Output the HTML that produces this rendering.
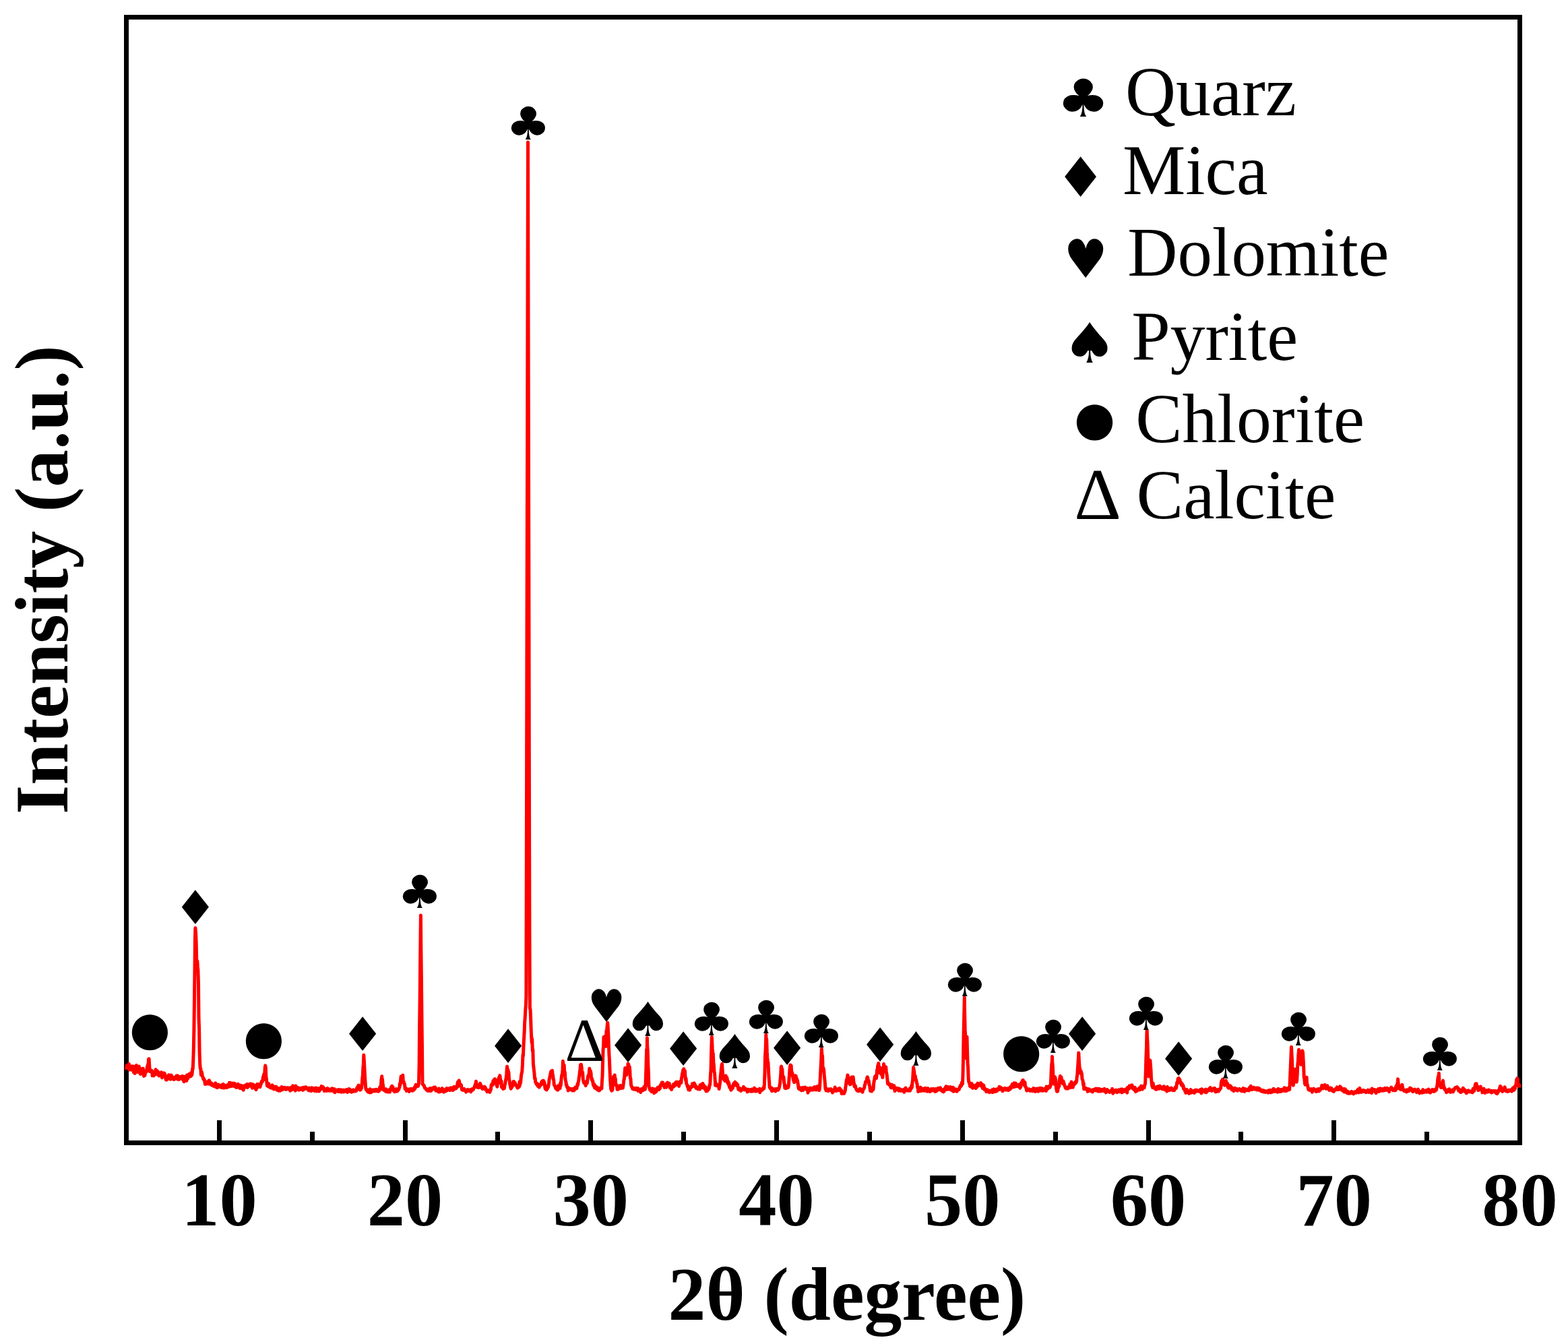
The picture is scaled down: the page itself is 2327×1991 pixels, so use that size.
<!DOCTYPE html>
<html lang="en">
<head>
<meta charset="utf-8">
<title>XRD pattern</title>
<style>
html,body{margin:0;padding:0;background:#fff;}
body{width:2327px;height:1991px;overflow:hidden;}
svg{display:block;}
.b{font-family:"Liberation Serif",serif;font-weight:bold;fill:#000;}
.l{font-family:"Liberation Serif",serif;fill:#000;}
.s{font-family:"DejaVu Sans",sans-serif;font-size:100px;fill:#000;}
.s .d{font-family:"Liberation Serif",serif;}
</style>
</head>
<body>
<svg width="2327" height="1991" viewBox="0 0 2327 1991">
<rect x="0" y="0" width="2327" height="1991" fill="#fff"/>
<g fill="#000" shape-rendering="crispEdges">
<rect x="184" y="22" width="2075" height="7"/>
<rect x="184" y="1692" width="2075" height="7"/>
<rect x="184" y="22" width="7" height="1677"/>
<rect x="2252" y="22" width="7" height="1677"/>
<rect x="322" y="1662" width="7" height="31"/>
<rect x="460" y="1679" width="7" height="14"/>
<rect x="598" y="1662" width="7" height="31"/>
<rect x="735" y="1679" width="7" height="14"/>
<rect x="873" y="1662" width="7" height="31"/>
<rect x="1011" y="1679" width="7" height="14"/>
<rect x="1149" y="1662" width="7" height="31"/>
<rect x="1287" y="1679" width="7" height="14"/>
<rect x="1425" y="1662" width="7" height="31"/>
<rect x="1563" y="1679" width="7" height="14"/>
<rect x="1701" y="1662" width="7" height="31"/>
<rect x="1838" y="1679" width="7" height="14"/>
<rect x="1976" y="1662" width="7" height="31"/>
<rect x="2114" y="1679" width="7" height="14"/>
</g>
<polyline fill="none" stroke="#f00" stroke-width="5" stroke-linejoin="round" stroke-linecap="butt" points="187.5,1587.06 188.1,1580.76 188.6,1582.55 189.2,1583.96 189.7,1580.63 190.3,1583.28 190.8,1583.55 191.4,1578.59 191.9,1587.13 192.5,1586.16 193.0,1582.81 193.6,1584.43 194.1,1586.69 194.7,1584.72 195.2,1585.05 195.8,1581.76 196.3,1587.69 196.9,1586.53 197.4,1587.07 198.0,1581.95 198.5,1591.24 199.1,1587.01 199.6,1585.55 200.2,1592.60 200.7,1586.73 201.3,1582.79 201.8,1585.89 202.4,1580.60 202.9,1590.25 203.5,1586.16 204.0,1585.32 204.6,1590.60 205.1,1582.94 205.7,1589.26 206.3,1581.97 206.8,1586.05 207.4,1584.66 207.9,1592.45 208.5,1593.54 209.0,1587.90 209.6,1591.42 210.1,1588.81 210.7,1591.13 211.2,1587.70 211.8,1585.30 212.3,1585.27 212.9,1591.37 213.4,1596.51 214.0,1591.09 214.5,1588.89 215.1,1595.54 215.6,1590.88 216.2,1590.42 216.7,1590.74 217.3,1589.58 217.8,1588.99 218.4,1582.43 218.9,1584.39 219.5,1578.91 220.0,1579.48 220.5,1571.36 221.1,1570.83 221.7,1580.46 222.2,1589.64 222.8,1587.41 223.3,1588.33 223.9,1587.79 224.5,1588.46 225.0,1590.76 225.6,1588.64 226.1,1596.02 226.7,1591.25 227.2,1592.28 227.8,1595.81 228.3,1595.94 228.9,1591.26 229.4,1592.64 230.0,1593.64 230.5,1591.04 231.1,1586.65 231.6,1593.12 232.2,1593.66 232.7,1592.30 233.3,1588.80 233.8,1590.90 234.4,1589.96 234.9,1590.87 235.5,1595.29 236.0,1596.03 236.6,1593.85 237.1,1593.64 237.7,1594.11 238.2,1592.39 238.8,1592.35 239.3,1590.89 239.9,1592.65 240.4,1598.90 241.0,1595.34 241.5,1592.27 242.1,1592.24 242.7,1591.88 243.2,1595.73 243.8,1596.40 244.3,1592.42 244.9,1597.90 245.4,1595.92 246.0,1601.43 246.5,1598.44 247.1,1602.27 247.6,1597.02 248.2,1597.43 248.7,1598.82 249.3,1600.58 249.8,1599.27 250.4,1594.72 250.9,1598.00 251.5,1597.41 252.0,1596.12 252.6,1595.44 253.1,1601.32 253.5,1596.03 254.2,1595.06 254.8,1598.93 255.3,1597.97 255.9,1597.80 256.4,1600.22 257.0,1599.85 257.5,1599.85 258.1,1601.55 258.6,1600.16 259.2,1598.22 259.7,1598.98 260.3,1598.74 260.8,1600.56 261.4,1597.64 262.0,1595.97 262.5,1600.49 263.1,1597.21 263.6,1595.82 264.2,1601.27 264.7,1598.78 265.3,1601.62 265.8,1599.26 266.4,1597.93 266.9,1597.68 267.5,1599.39 268.0,1599.98 268.6,1598.74 269.1,1600.02 269.7,1597.14 270.2,1600.75 270.8,1596.59 271.3,1600.30 271.9,1602.38 272.4,1603.30 273.0,1604.75 273.5,1597.20 274.1,1602.55 274.6,1603.43 275.2,1602.56 275.7,1597.71 276.3,1600.48 276.8,1603.55 277.4,1595.13 277.9,1599.46 278.5,1600.60 279.0,1595.74 279.6,1598.44 280.2,1593.85 280.7,1593.98 281.3,1593.42 281.8,1595.60 282.4,1594.59 282.9,1596.94 283.5,1591.60 284.0,1593.14 284.6,1595.25 285.1,1592.94 285.7,1585.33 286.2,1586.11 286.8,1572.66 287.3,1557.47 287.9,1527.73 288.4,1490.88 289.0,1440.02 289.5,1391.53 289.9,1376.70 290.6,1384.97 291.2,1399.76 291.7,1424.45 292.3,1429.82 292.8,1425.58 293.4,1434.40 293.9,1439.22 294.5,1460.47 295.0,1510.94 295.6,1526.18 296.1,1561.30 296.7,1578.37 297.2,1585.20 297.8,1585.04 298.4,1594.90 298.9,1589.72 299.5,1590.81 300.0,1593.92 300.6,1597.44 301.1,1598.02 301.7,1601.00 302.2,1599.79 302.8,1602.13 303.3,1601.74 303.9,1605.17 304.4,1608.59 305.0,1607.05 305.5,1608.47 306.1,1606.14 306.6,1605.66 307.2,1606.32 307.7,1605.13 308.3,1606.12 308.8,1604.79 309.1,1608.03 309.4,1603.82 309.9,1604.07 310.5,1602.95 311.0,1605.93 311.6,1608.01 312.1,1605.79 312.7,1607.62 313.2,1609.41 313.8,1607.93 314.3,1607.25 314.9,1610.18 315.4,1608.68 316.0,1609.49 316.6,1611.18 317.1,1611.34 317.7,1608.76 318.2,1608.65 318.8,1610.38 319.3,1609.83 319.9,1606.84 320.4,1612.83 321.0,1610.77 321.5,1612.27 322.1,1609.10 322.6,1613.66 323.2,1610.52 323.7,1611.36 324.3,1609.09 324.8,1611.25 325.4,1611.14 325.9,1611.21 326.5,1612.30 327.0,1611.63 327.6,1613.23 328.1,1610.70 328.7,1609.77 329.2,1611.47 329.8,1612.60 330.3,1613.68 330.9,1612.92 331.4,1608.39 332.0,1612.14 332.5,1614.03 333.1,1611.58 333.6,1610.56 334.2,1612.00 334.8,1610.54 335.3,1612.46 335.9,1611.23 336.4,1613.63 337.0,1611.96 337.5,1609.69 338.1,1611.97 338.6,1612.48 339.2,1609.69 339.7,1609.86 340.3,1606.37 340.8,1612.09 341.4,1609.29 341.9,1606.40 342.5,1606.95 343.0,1609.68 343.6,1611.40 344.1,1609.75 344.7,1610.69 345.2,1607.69 345.8,1607.15 346.3,1611.20 346.9,1610.38 347.4,1609.32 348.0,1611.69 348.5,1607.42 349.1,1608.65 349.6,1611.56 350.2,1613.27 350.7,1610.11 351.3,1613.37 351.8,1609.44 352.4,1611.34 353.0,1610.66 353.5,1608.38 354.1,1611.86 354.6,1613.25 355.2,1611.59 355.7,1611.95 356.3,1614.66 356.8,1610.40 357.4,1610.22 357.9,1611.79 358.5,1610.79 359.0,1614.96 359.6,1613.13 360.1,1611.06 360.7,1611.39 361.2,1617.20 361.8,1611.21 362.3,1610.85 362.9,1612.59 363.4,1613.07 364.0,1612.27 364.5,1610.22 365.1,1609.69 365.6,1612.65 366.2,1611.42 366.7,1608.55 367.3,1613.40 367.8,1612.61 368.4,1610.73 368.9,1610.60 369.5,1611.38 370.0,1609.65 370.6,1608.37 371.1,1611.27 371.7,1608.00 372.3,1611.41 372.8,1608.24 373.4,1610.75 373.9,1610.80 374.5,1614.31 375.0,1609.38 375.6,1608.88 376.1,1610.34 376.7,1609.62 377.2,1610.67 377.8,1612.53 378.3,1613.24 378.9,1614.86 379.4,1610.85 380.0,1616.72 380.5,1615.68 381.1,1612.06 381.6,1608.53 382.2,1612.27 382.7,1612.53 383.3,1608.48 383.8,1612.45 384.4,1611.85 384.9,1610.60 385.5,1612.63 386.0,1612.68 386.6,1609.06 387.1,1609.20 387.7,1606.10 388.2,1604.39 388.8,1604.98 389.3,1605.13 389.9,1602.08 390.5,1597.60 391.0,1602.23 391.6,1593.84 392.1,1593.40 392.7,1592.98 393.3,1584.05 393.8,1580.85 394.3,1584.04 394.9,1597.30 395.4,1600.56 396.0,1606.82 396.5,1610.85 397.1,1610.96 397.6,1611.51 398.2,1610.92 398.7,1607.61 399.3,1610.34 399.8,1612.76 400.4,1612.56 400.9,1613.50 401.5,1612.58 402.0,1613.02 402.6,1614.02 403.1,1611.16 403.7,1612.11 404.2,1609.90 404.8,1614.45 405.3,1613.11 405.9,1614.07 406.4,1615.99 407.0,1615.44 407.5,1613.82 408.1,1615.38 408.7,1612.10 409.2,1615.23 409.8,1614.99 410.3,1612.52 410.9,1617.22 411.4,1614.36 412.0,1616.63 412.5,1615.22 413.1,1617.48 413.6,1618.14 414.2,1615.29 414.7,1614.53 415.3,1616.70 415.8,1618.19 416.4,1616.37 416.9,1615.90 417.5,1617.31 418.0,1612.58 418.6,1615.41 419.1,1614.24 419.7,1616.52 420.2,1614.89 420.8,1614.19 421.3,1615.17 421.9,1613.38 422.4,1615.41 423.0,1614.27 423.5,1614.59 424.1,1613.96 424.6,1616.41 425.2,1614.83 425.7,1615.78 426.3,1615.69 426.9,1613.70 427.4,1615.78 428.0,1615.42 428.5,1615.34 429.1,1614.23 429.6,1614.16 430.2,1616.02 430.7,1618.19 431.3,1613.59 431.8,1615.71 432.4,1614.36 432.9,1616.14 433.5,1615.64 434.0,1616.61 434.6,1610.77 435.1,1614.14 435.7,1613.58 436.2,1614.94 436.8,1614.03 437.3,1614.19 437.9,1616.22 438.4,1618.08 439.0,1610.98 439.5,1614.80 440.1,1615.76 440.6,1615.33 441.2,1614.83 441.7,1613.35 442.3,1613.99 442.8,1616.51 443.4,1617.06 443.9,1615.62 444.5,1614.26 445.1,1615.68 445.6,1615.20 446.2,1616.40 446.7,1615.79 447.3,1614.72 447.8,1615.93 448.4,1613.91 448.9,1616.84 449.5,1617.30 450.0,1613.61 450.6,1615.75 451.1,1613.22 451.7,1616.02 452.2,1615.38 452.8,1613.29 453.0,1615.21 453.3,1612.88 453.9,1612.68 454.4,1613.14 455.0,1614.27 455.5,1614.46 456.1,1615.60 456.6,1614.77 457.2,1617.02 457.7,1617.52 458.3,1615.41 458.8,1614.13 459.4,1617.26 459.9,1617.89 460.5,1616.05 461.0,1614.47 461.6,1616.72 462.1,1618.54 462.7,1613.72 463.3,1617.10 463.8,1616.00 464.4,1615.25 464.9,1617.20 465.5,1614.68 466.0,1616.95 466.6,1618.40 467.1,1616.81 467.7,1615.34 468.2,1614.09 468.8,1614.81 469.3,1614.04 469.9,1618.90 470.4,1616.31 471.0,1615.21 471.5,1614.87 472.1,1615.21 472.6,1616.23 473.2,1614.87 473.7,1618.93 474.3,1615.23 474.8,1614.68 475.4,1615.55 475.9,1616.42 476.5,1615.30 477.0,1611.49 477.3,1612.54 477.6,1612.26 478.1,1613.17 478.7,1613.44 479.2,1612.52 479.8,1613.10 480.3,1616.09 480.9,1614.70 481.4,1618.63 482.0,1616.96 482.6,1615.57 483.1,1616.59 483.7,1616.36 484.2,1616.90 484.8,1618.39 485.3,1615.13 485.9,1614.57 486.4,1617.61 487.0,1616.92 487.5,1617.40 488.1,1617.80 488.6,1616.96 489.2,1618.32 489.7,1616.03 490.3,1617.35 490.8,1616.15 491.4,1615.76 491.9,1618.14 492.5,1618.10 493.0,1614.72 493.6,1615.84 494.1,1617.77 494.7,1618.83 495.2,1616.51 495.8,1617.18 496.3,1615.54 496.9,1620.83 497.4,1618.11 498.0,1618.69 498.5,1618.39 499.1,1618.77 499.6,1618.35 500.2,1617.11 500.8,1618.57 501.3,1617.70 501.9,1619.33 502.4,1616.64 503.0,1616.92 503.5,1618.53 504.1,1619.37 504.6,1617.88 505.2,1616.76 505.7,1617.56 506.3,1617.07 506.8,1620.24 507.4,1618.93 507.9,1619.43 508.5,1618.17 509.0,1617.05 509.6,1619.34 510.1,1619.98 510.7,1618.58 511.2,1617.79 511.8,1619.26 512.3,1617.36 512.9,1618.86 513.4,1616.94 514.0,1616.61 514.5,1618.63 515.1,1618.34 515.6,1620.40 516.2,1617.56 516.7,1617.97 517.3,1616.46 517.8,1615.52 518.4,1615.65 519.0,1618.58 519.5,1616.46 520.1,1619.47 520.6,1619.86 521.2,1617.66 521.7,1620.19 522.3,1618.35 522.8,1619.52 523.4,1617.78 523.9,1619.33 524.5,1616.88 525.0,1618.92 525.6,1617.53 526.1,1617.97 526.7,1618.94 527.2,1618.32 527.8,1617.89 528.3,1618.70 528.9,1618.34 529.4,1614.48 530.0,1616.19 530.5,1615.19 531.1,1611.79 531.5,1613.15 532.2,1610.13 532.7,1615.32 533.3,1613.45 533.8,1614.65 534.4,1617.26 534.9,1615.61 535.5,1616.68 536.0,1613.91 536.6,1614.09 537.2,1608.06 537.7,1601.19 538.3,1595.54 538.8,1584.75 539.4,1578.42 539.8,1565.23 540.5,1576.12 541.0,1586.23 541.6,1597.79 542.1,1606.02 542.7,1614.23 543.2,1616.38 543.8,1615.87 544.3,1616.64 544.9,1618.95 545.4,1616.80 546.0,1618.14 546.5,1620.21 547.1,1618.44 547.6,1619.33 548.2,1617.76 548.7,1621.03 549.3,1615.81 549.8,1617.24 550.4,1617.36 550.9,1620.70 551.5,1619.14 552.0,1618.36 552.6,1617.08 553.1,1619.12 553.7,1618.79 554.2,1617.77 554.8,1616.76 555.4,1617.23 555.9,1618.86 556.5,1618.97 557.0,1618.65 557.6,1618.35 558.1,1616.29 558.7,1618.54 559.2,1617.13 559.8,1618.42 560.3,1618.88 560.9,1617.31 561.4,1616.72 562.0,1619.18 562.5,1618.14 563.1,1616.60 563.6,1613.12 564.2,1616.90 564.7,1613.92 565.3,1610.77 565.8,1602.97 566.4,1598.77 566.7,1596.82 566.9,1601.58 567.5,1601.16 568.0,1607.65 568.6,1610.50 569.1,1616.72 569.7,1614.86 570.2,1617.73 570.8,1616.75 571.3,1617.29 571.9,1618.42 572.4,1619.34 573.0,1615.70 573.6,1619.28 574.1,1618.74 574.7,1617.69 575.2,1619.93 575.8,1618.39 576.3,1619.81 576.9,1617.31 577.4,1616.78 578.0,1619.25 578.5,1620.10 579.1,1617.39 579.6,1617.04 580.2,1614.25 580.7,1612.31 581.0,1613.84 581.3,1616.49 581.8,1611.29 582.4,1613.92 582.9,1612.51 583.5,1616.32 584.0,1618.10 584.6,1615.80 585.1,1617.34 585.7,1619.83 586.2,1618.13 586.8,1616.70 587.3,1616.58 587.9,1615.63 588.4,1619.07 589.0,1616.89 589.5,1619.01 590.1,1618.45 590.6,1615.90 591.2,1615.43 591.7,1616.48 592.3,1614.35 592.9,1612.97 593.4,1607.51 594.0,1609.77 594.5,1603.35 595.1,1597.09 595.6,1597.86 596.2,1598.17 596.8,1601.37 597.3,1595.68 597.8,1595.20 598.4,1605.92 598.9,1604.32 599.5,1606.30 600.0,1607.33 600.6,1609.70 601.1,1615.55 601.7,1613.94 602.2,1614.45 602.8,1615.15 603.3,1618.57 603.9,1615.80 604.4,1617.71 605.0,1617.35 605.5,1617.42 606.1,1615.97 606.6,1618.12 607.2,1619.46 607.7,1617.24 608.3,1616.09 608.8,1615.60 609.4,1617.63 609.9,1617.03 610.5,1617.28 611.1,1617.43 611.6,1615.39 612.2,1618.35 612.7,1617.43 613.3,1616.68 613.8,1616.62 614.4,1616.98 614.9,1614.86 615.5,1612.53 616.0,1614.99 616.3,1611.97 616.6,1611.17 617.1,1609.26 617.7,1611.69 618.2,1609.65 618.8,1610.34 619.3,1611.69 619.9,1610.39 620.4,1611.47 621.0,1609.27 621.5,1606.94 622.1,1579.20 622.6,1525.30 623.2,1477.45 623.7,1422.43 624.4,1357.89 624.8,1404.63 625.4,1453.84 625.9,1504.06 626.5,1553.07 627.0,1608.28 627.6,1608.93 628.1,1609.68 628.7,1609.92 629.3,1610.34 629.8,1612.41 630.4,1614.08 630.9,1614.30 631.5,1614.96 632.0,1615.05 632.6,1616.68 633.1,1616.88 633.7,1615.77 634.2,1618.07 634.8,1618.25 635.3,1618.37 635.9,1617.16 636.4,1617.12 637.0,1615.84 637.5,1618.43 638.1,1614.53 638.6,1616.87 639.2,1616.91 639.7,1618.46 640.3,1617.16 640.8,1615.60 641.4,1614.56 641.9,1615.02 642.5,1615.64 643.0,1614.95 643.6,1614.04 644.0,1613.01 644.7,1613.68 645.2,1615.84 645.8,1613.03 646.3,1615.34 646.9,1618.22 647.5,1617.12 648.0,1616.04 648.6,1617.84 649.1,1616.03 649.7,1617.14 650.2,1619.29 650.8,1619.79 651.3,1614.92 651.9,1618.21 652.4,1619.92 653.0,1616.53 653.5,1617.61 654.1,1619.29 654.6,1616.55 655.2,1617.82 655.7,1617.12 656.3,1614.60 656.8,1617.73 657.4,1617.06 657.9,1618.63 658.5,1620.26 659.0,1618.42 659.6,1617.07 660.1,1618.20 660.7,1617.91 661.2,1619.02 661.8,1615.78 662.3,1616.02 662.9,1614.61 663.4,1618.00 664.0,1616.94 664.5,1615.87 665.1,1615.53 665.7,1615.53 666.2,1614.80 666.8,1615.46 667.3,1614.99 667.9,1617.58 668.4,1615.78 669.0,1613.84 669.5,1613.97 670.1,1616.62 670.6,1615.52 671.2,1615.33 671.7,1616.03 672.3,1617.38 672.8,1613.14 673.4,1613.87 673.9,1612.35 674.5,1615.72 675.0,1614.29 675.6,1613.66 676.1,1613.20 676.7,1615.01 677.2,1612.96 677.8,1611.30 678.3,1613.18 678.9,1607.48 679.4,1605.34 680.0,1611.58 680.5,1604.36 680.8,1603.65 681.1,1603.07 681.6,1604.54 682.2,1607.33 682.7,1608.59 683.3,1609.78 683.9,1609.94 684.4,1609.46 685.0,1613.82 685.5,1616.81 686.1,1616.87 686.6,1615.62 687.2,1617.45 687.7,1616.08 688.3,1616.79 688.8,1615.35 689.4,1616.77 689.9,1617.53 690.5,1617.23 691.0,1618.59 691.6,1620.16 692.1,1619.46 692.7,1617.34 693.2,1616.80 693.8,1616.92 694.3,1616.50 694.9,1617.84 695.4,1618.35 696.0,1618.03 696.5,1618.03 697.1,1617.96 697.6,1617.54 698.2,1616.67 698.7,1619.87 699.3,1618.84 699.8,1615.98 700.4,1615.66 700.9,1615.63 701.5,1615.90 702.0,1616.95 702.6,1615.62 703.2,1614.57 703.7,1613.34 704.3,1612.08 704.8,1610.23 705.5,1608.69 705.9,1607.34 706.5,1604.30 707.0,1608.09 707.6,1612.65 708.1,1609.30 708.7,1610.08 709.2,1613.55 709.8,1612.07 710.3,1610.76 710.9,1613.64 711.4,1611.03 712.0,1610.39 712.5,1607.31 713.1,1609.33 713.6,1609.66 714.2,1611.44 714.7,1613.39 715.3,1614.64 715.8,1614.14 716.4,1615.55 716.9,1612.70 717.5,1615.06 718.0,1614.62 718.4,1612.66 719.1,1612.26 719.7,1614.11 720.2,1613.30 720.8,1616.61 721.4,1617.40 721.9,1616.39 722.5,1618.13 723.0,1619.64 723.6,1619.70 724.1,1619.63 724.7,1618.09 725.2,1617.74 725.8,1617.48 726.3,1618.48 726.9,1620.41 727.4,1618.47 728.0,1617.81 728.5,1616.21 729.1,1609.67 729.6,1610.19 730.2,1607.91 730.8,1609.50 731.3,1609.48 731.8,1603.75 732.4,1604.48 732.9,1604.87 733.5,1601.83 734.0,1600.96 734.5,1600.78 735.1,1605.02 735.7,1602.45 736.2,1608.36 736.8,1607.82 737.3,1610.28 737.9,1612.16 738.4,1607.36 739.0,1605.40 739.6,1605.60 740.1,1599.76 740.7,1598.11 741.0,1598.63 741.2,1598.96 741.8,1595.65 742.3,1598.99 742.9,1603.36 743.4,1607.61 744.0,1603.73 744.5,1612.55 745.1,1613.73 745.6,1611.96 746.2,1612.32 746.7,1615.59 747.3,1614.23 747.8,1614.54 748.4,1614.58 748.9,1610.61 749.5,1608.78 750.0,1605.70 750.6,1602.07 751.1,1599.15 751.7,1593.97 752.2,1585.55 752.6,1582.30 753.3,1589.78 753.9,1586.86 754.4,1590.20 755.0,1591.29 755.5,1601.44 756.1,1603.12 756.6,1608.26 757.2,1610.26 757.8,1613.52 758.3,1615.19 758.9,1612.73 759.4,1612.79 760.0,1612.70 760.5,1608.88 761.1,1606.98 761.6,1606.17 761.9,1604.41 762.2,1608.05 762.7,1604.52 763.3,1608.38 763.8,1609.45 764.4,1606.42 764.9,1609.90 765.5,1609.95 766.0,1609.53 766.6,1611.33 767.1,1611.68 767.7,1613.57 768.2,1614.13 768.8,1610.36 769.3,1611.15 769.9,1612.19 770.4,1612.55 771.0,1604.70 771.5,1610.27 772.1,1605.47 772.6,1606.67 773.2,1599.23 773.7,1594.32 774.3,1591.89 774.8,1589.66 775.4,1579.97 776.0,1564.63 776.5,1566.75 777.1,1548.97 777.6,1541.32 778.2,1530.14 778.7,1516.62 779.3,1508.26 779.8,1498.83 780.4,1490.43 780.9,1476.95 781.5,1201.72 782.0,924.43 782.6,659.10 783.1,395.13 783.5,211.04 784.2,558.45 784.8,830.39 785.3,1103.31 785.9,1378.69 786.4,1496.02 787.0,1497.20 787.5,1507.67 788.1,1525.57 788.6,1536.63 789.2,1547.00 789.7,1541.21 790.3,1559.05 790.8,1557.01 791.4,1578.35 791.9,1582.81 792.5,1588.54 793.0,1592.89 793.6,1600.49 794.2,1599.89 794.7,1605.46 795.3,1606.42 795.8,1607.56 796.4,1608.94 796.9,1609.12 797.5,1607.49 798.0,1611.27 798.6,1611.62 799.1,1610.59 799.7,1612.54 800.2,1613.07 800.8,1609.34 801.3,1611.17 801.9,1610.16 802.4,1608.44 803.0,1609.47 803.5,1605.60 804.1,1604.63 804.6,1604.45 805.3,1603.48 805.7,1603.29 806.3,1608.07 806.8,1603.38 807.4,1606.76 807.9,1606.00 808.5,1611.29 809.0,1614.26 809.6,1615.77 810.1,1613.86 810.7,1614.73 811.2,1617.00 811.8,1614.48 812.3,1615.32 812.9,1610.88 813.5,1613.29 814.0,1610.61 814.6,1606.95 815.1,1601.17 815.7,1599.21 816.2,1596.61 816.8,1593.91 817.5,1590.22 817.9,1589.32 818.4,1590.62 819.0,1595.14 819.5,1588.30 820.1,1592.93 820.6,1595.84 821.2,1601.11 821.7,1601.92 822.3,1609.14 822.8,1610.32 823.4,1611.37 823.9,1611.94 824.5,1614.25 825.0,1614.93 825.6,1615.60 826.1,1614.27 826.7,1616.48 827.2,1613.37 827.8,1617.35 828.3,1610.72 828.9,1614.16 829.4,1612.77 830.0,1615.21 830.5,1610.46 831.1,1614.62 831.7,1606.39 832.2,1610.52 832.8,1603.64 833.3,1598.16 833.9,1594.13 834.4,1594.05 835.0,1586.15 835.4,1574.33 836.1,1584.07 836.6,1582.55 837.2,1580.06 837.7,1591.04 838.3,1590.45 838.8,1598.80 839.4,1603.17 839.9,1604.91 840.5,1610.29 841.0,1609.39 841.6,1613.06 842.1,1612.95 842.7,1614.29 843.2,1618.01 843.8,1615.62 844.3,1614.11 844.9,1615.73 845.4,1614.92 846.0,1616.18 846.5,1616.47 847.1,1616.42 847.6,1616.47 848.2,1615.60 848.7,1617.03 849.3,1617.90 849.9,1615.49 850.4,1616.26 851.0,1616.38 851.5,1618.02 852.1,1617.68 852.6,1614.81 853.2,1615.71 853.7,1613.04 854.3,1613.44 854.8,1614.50 855.4,1614.93 855.9,1614.75 856.5,1611.63 857.0,1608.33 857.6,1609.58 858.1,1605.88 858.7,1603.82 859.2,1599.15 859.8,1595.91 860.3,1590.94 860.9,1587.12 861.5,1579.79 862.0,1583.30 862.5,1579.25 863.1,1583.13 863.6,1591.44 864.2,1590.91 864.7,1591.03 865.3,1601.57 865.8,1603.51 866.4,1606.27 866.9,1606.06 867.5,1607.53 868.1,1607.04 868.6,1606.45 869.2,1610.69 869.7,1606.38 870.3,1605.15 870.8,1603.80 871.4,1607.06 871.9,1602.83 872.5,1597.51 873.0,1595.74 873.6,1594.74 874.1,1593.67 874.8,1585.14 875.2,1591.73 875.8,1588.88 876.3,1588.71 876.9,1591.35 877.4,1596.75 878.0,1601.67 878.5,1600.41 879.1,1603.92 879.6,1603.37 880.2,1608.15 880.7,1610.49 881.3,1607.66 881.8,1610.61 882.4,1613.74 882.9,1610.17 883.5,1613.00 884.0,1614.96 884.6,1611.66 885.1,1613.95 885.7,1614.90 886.3,1616.47 886.8,1613.48 887.4,1617.29 887.9,1616.33 888.5,1617.84 889.0,1617.97 889.6,1616.96 890.1,1617.31 890.7,1614.30 891.2,1614.88 891.8,1615.16 892.3,1615.29 892.9,1615.02 893.4,1604.60 894.0,1596.85 894.5,1577.57 895.1,1556.68 895.6,1551.50 896.0,1538.61 896.7,1542.81 897.3,1544.75 897.8,1539.41 898.4,1537.02 898.9,1552.53 899.5,1538.60 900.0,1529.17 900.6,1529.45 901.1,1521.97 901.7,1517.34 902.2,1523.03 902.8,1534.25 903.3,1546.48 903.9,1563.48 904.5,1574.16 905.0,1587.68 905.6,1601.16 906.1,1608.87 906.7,1615.81 907.2,1616.82 907.8,1618.18 908.3,1616.03 908.9,1617.14 909.4,1607.64 910.0,1604.93 910.5,1597.34 910.9,1598.13 911.6,1598.84 912.2,1594.94 912.7,1600.83 913.3,1600.27 913.8,1609.87 914.4,1609.15 914.9,1609.57 915.5,1612.50 916.0,1616.25 916.6,1616.52 917.1,1615.90 917.7,1612.15 918.2,1612.69 918.8,1615.21 919.3,1611.06 919.9,1611.82 920.4,1610.85 921.0,1610.56 921.5,1614.61 922.1,1613.66 922.6,1613.35 923.2,1613.49 923.8,1614.00 924.3,1614.25 924.9,1610.19 925.4,1606.87 926.0,1601.14 926.5,1600.66 927.1,1591.27 927.7,1584.40 928.2,1587.32 928.7,1589.44 929.3,1593.41 929.8,1594.94 930.4,1590.13 930.9,1587.88 931.5,1585.28 932.0,1578.12 932.6,1578.75 933.1,1581.21 933.7,1583.06 934.2,1582.43 934.8,1588.40 935.3,1599.92 935.9,1599.73 936.4,1608.21 937.0,1611.48 937.5,1612.19 938.1,1612.57 938.6,1615.25 939.2,1614.03 939.7,1615.37 940.3,1616.00 940.8,1614.98 941.4,1615.85 942.0,1615.88 942.5,1614.71 943.1,1616.33 943.6,1615.83 944.2,1614.30 944.7,1616.49 945.3,1616.68 945.8,1616.36 946.4,1614.49 946.9,1618.44 947.5,1618.41 948.0,1618.47 948.6,1618.13 949.1,1616.13 949.7,1617.95 950.2,1616.55 950.8,1620.62 951.3,1616.98 951.9,1618.47 952.4,1615.37 953.0,1615.68 953.5,1616.31 954.1,1617.73 954.6,1617.16 955.2,1616.35 955.7,1612.64 956.3,1616.58 956.8,1612.77 957.4,1616.22 957.9,1612.49 958.5,1595.18 959.0,1580.33 959.6,1556.77 960.2,1556.48 960.4,1539.81 960.7,1551.47 961.3,1559.85 961.8,1578.51 962.4,1591.52 962.9,1610.10 963.5,1613.70 964.0,1614.70 964.6,1617.04 965.1,1616.19 965.7,1616.34 966.2,1616.48 966.8,1619.60 967.3,1616.29 967.9,1618.93 968.4,1614.86 969.0,1616.45 969.5,1618.25 970.1,1617.55 970.6,1621.76 971.2,1621.22 971.7,1615.85 972.3,1616.42 972.8,1617.59 973.4,1620.02 973.9,1619.15 974.5,1617.98 975.0,1615.51 975.6,1616.08 976.1,1613.24 976.7,1614.40 977.2,1616.66 977.8,1616.53 978.4,1612.43 978.9,1613.59 979.5,1615.00 980.0,1611.26 980.6,1609.16 981.1,1609.78 981.7,1608.75 982.0,1607.47 982.2,1606.05 982.8,1606.02 983.3,1607.14 983.9,1606.25 984.4,1610.52 985.0,1610.29 985.5,1611.26 986.1,1613.46 986.6,1612.88 987.2,1612.60 987.7,1610.47 988.3,1609.02 988.8,1613.26 989.4,1607.11 990.0,1606.80 990.5,1606.17 991.0,1608.37 991.6,1609.09 992.1,1610.80 992.7,1609.16 993.2,1607.28 993.8,1611.87 994.3,1613.82 994.9,1612.98 995.4,1613.35 996.0,1614.95 996.6,1616.51 997.1,1614.01 997.7,1611.52 998.2,1612.37 998.8,1612.34 999.3,1608.66 999.9,1612.21 1000.4,1608.41 1001.0,1609.82 1001.5,1608.38 1001.9,1606.89 1002.6,1610.15 1003.2,1605.51 1003.7,1605.25 1004.3,1607.32 1004.8,1608.60 1005.4,1607.13 1005.9,1605.36 1006.5,1608.78 1007.0,1608.60 1007.6,1611.48 1008.1,1607.24 1008.7,1608.20 1009.2,1606.51 1009.8,1604.13 1010.3,1606.22 1010.9,1606.21 1011.4,1599.73 1012.0,1597.37 1012.5,1592.56 1013.1,1595.73 1013.6,1587.69 1014.0,1590.04 1014.8,1585.82 1015.3,1589.87 1015.9,1590.20 1016.4,1588.66 1017.0,1598.14 1017.5,1602.54 1018.1,1600.12 1018.6,1607.00 1019.2,1608.83 1019.7,1609.52 1020.3,1612.32 1020.8,1610.60 1021.4,1614.83 1021.9,1616.79 1022.5,1613.19 1023.0,1614.97 1023.6,1617.12 1024.1,1614.89 1024.7,1613.51 1025.2,1612.32 1025.8,1613.38 1026.3,1612.03 1026.9,1612.48 1027.4,1607.76 1028.0,1611.78 1028.5,1608.54 1029.1,1610.25 1029.6,1607.72 1030.2,1606.96 1030.7,1608.86 1031.3,1608.81 1031.8,1610.57 1032.4,1613.02 1032.9,1614.34 1033.5,1613.37 1034.1,1612.56 1034.6,1612.99 1035.2,1614.84 1035.7,1615.79 1036.3,1613.62 1036.8,1614.16 1037.4,1613.35 1037.9,1614.92 1038.5,1616.05 1039.0,1609.82 1039.6,1614.42 1040.1,1612.58 1040.7,1608.87 1041.2,1612.50 1041.8,1611.00 1042.3,1611.16 1043.0,1607.49 1043.4,1613.88 1044.0,1610.38 1044.5,1610.11 1045.1,1614.21 1045.6,1613.64 1046.2,1614.96 1046.7,1616.48 1047.3,1612.61 1047.8,1618.89 1048.4,1616.74 1048.9,1617.96 1049.5,1618.65 1050.0,1616.08 1050.6,1616.98 1051.1,1616.97 1051.7,1614.99 1052.3,1614.93 1052.8,1610.53 1053.4,1610.10 1053.9,1605.96 1054.5,1593.07 1055.0,1588.20 1055.6,1561.09 1056.3,1538.38 1056.7,1544.54 1057.2,1555.92 1057.8,1562.13 1058.3,1563.01 1058.9,1576.30 1059.4,1580.35 1060.0,1590.71 1060.5,1591.43 1061.1,1601.14 1061.6,1610.24 1062.2,1606.16 1062.7,1610.58 1063.3,1610.72 1063.8,1610.52 1064.4,1610.95 1064.9,1610.74 1065.5,1611.25 1066.0,1609.82 1066.6,1610.48 1067.1,1615.55 1067.7,1611.42 1068.2,1608.46 1068.8,1604.29 1069.3,1595.90 1069.9,1591.40 1070.5,1584.24 1070.8,1586.04 1071.0,1580.31 1071.6,1578.38 1072.1,1587.35 1072.7,1593.62 1073.2,1600.23 1073.8,1599.03 1074.3,1597.56 1074.9,1602.35 1075.4,1602.32 1076.0,1603.63 1076.5,1600.20 1077.1,1595.92 1077.8,1598.79 1078.2,1598.18 1078.7,1598.42 1079.3,1601.30 1079.8,1606.73 1080.4,1604.14 1080.9,1605.12 1081.5,1609.79 1082.0,1607.20 1082.6,1613.21 1083.1,1611.89 1083.7,1612.69 1084.2,1614.63 1084.8,1617.27 1085.3,1613.56 1085.9,1616.04 1086.4,1614.80 1087.0,1611.35 1087.5,1614.28 1088.1,1610.22 1088.7,1607.73 1089.2,1607.60 1089.8,1606.51 1090.5,1608.09 1090.9,1605.25 1091.4,1609.86 1092.0,1607.86 1092.5,1606.91 1093.1,1607.84 1093.6,1611.08 1094.2,1608.50 1094.7,1609.71 1095.3,1613.05 1095.8,1616.37 1096.4,1616.50 1096.9,1616.90 1097.5,1616.94 1098.0,1614.51 1098.6,1617.10 1099.1,1615.15 1099.7,1618.52 1100.2,1617.11 1100.8,1616.58 1101.3,1616.74 1101.9,1616.04 1102.4,1615.36 1103.0,1615.14 1103.2,1613.58 1103.5,1612.32 1104.1,1614.97 1104.6,1616.87 1105.2,1616.47 1105.7,1614.96 1106.3,1616.57 1106.9,1615.42 1107.4,1616.97 1108.0,1615.89 1108.5,1617.19 1109.1,1619.90 1109.6,1618.31 1110.2,1619.34 1110.7,1616.27 1111.3,1616.37 1111.8,1617.23 1112.4,1618.01 1112.9,1616.99 1113.5,1618.69 1114.0,1616.61 1114.6,1619.22 1115.1,1618.73 1115.7,1615.96 1116.2,1618.28 1116.8,1617.24 1117.3,1618.93 1117.9,1616.89 1118.4,1618.06 1119.0,1618.40 1119.5,1614.07 1120.1,1615.27 1120.6,1617.95 1121.2,1617.66 1121.7,1619.19 1122.3,1618.19 1122.8,1616.27 1123.4,1618.39 1123.9,1617.02 1124.5,1617.73 1125.1,1617.39 1125.6,1618.53 1126.2,1616.25 1126.7,1616.64 1127.3,1615.20 1127.8,1620.80 1128.4,1616.60 1128.9,1616.61 1129.5,1615.99 1130.0,1616.37 1130.6,1616.28 1131.1,1617.31 1131.7,1616.14 1132.2,1615.73 1132.8,1613.58 1133.3,1613.58 1133.9,1614.89 1134.4,1608.19 1135.0,1591.64 1135.5,1566.71 1136.1,1558.23 1136.8,1535.07 1137.2,1549.55 1137.7,1541.56 1138.3,1560.92 1138.8,1569.02 1139.4,1575.82 1139.9,1575.93 1140.5,1587.56 1141.0,1597.82 1141.6,1605.26 1142.1,1613.18 1142.7,1614.07 1143.2,1614.49 1143.8,1615.74 1144.4,1615.16 1144.9,1613.81 1145.5,1618.82 1146.0,1614.81 1146.6,1617.24 1147.1,1615.79 1147.7,1617.25 1148.2,1616.37 1148.8,1617.55 1149.3,1616.41 1149.9,1615.71 1150.4,1617.77 1151.0,1619.05 1151.5,1617.59 1152.1,1617.13 1152.6,1615.37 1153.2,1616.55 1153.7,1617.11 1154.3,1615.33 1154.8,1617.30 1155.4,1615.55 1155.9,1615.50 1156.5,1612.89 1157.0,1610.36 1157.6,1607.29 1158.1,1601.25 1158.7,1593.57 1159.2,1583.26 1159.6,1582.10 1160.3,1586.86 1160.9,1586.13 1161.4,1596.88 1162.0,1596.47 1162.6,1597.42 1163.1,1598.84 1163.7,1606.31 1164.2,1607.76 1164.8,1614.35 1165.3,1613.22 1165.9,1610.88 1166.4,1614.77 1167.0,1612.93 1167.5,1613.02 1168.1,1613.44 1168.6,1613.46 1169.2,1613.67 1169.7,1613.53 1170.3,1610.81 1170.8,1604.14 1171.4,1595.45 1171.9,1587.52 1172.5,1582.37 1173.0,1580.00 1173.6,1584.96 1174.1,1580.66 1174.7,1589.32 1175.2,1590.73 1175.8,1591.71 1176.3,1595.89 1176.9,1598.98 1177.4,1602.56 1178.0,1603.65 1178.5,1605.66 1179.1,1605.40 1179.6,1604.50 1180.2,1597.57 1180.5,1595.71 1180.8,1597.47 1181.3,1596.69 1181.9,1602.52 1182.4,1600.01 1183.0,1603.86 1183.5,1602.89 1184.1,1607.16 1184.6,1610.45 1185.2,1614.84 1185.7,1612.97 1186.3,1616.03 1186.8,1613.54 1187.4,1615.45 1187.9,1616.35 1188.5,1616.73 1189.0,1617.76 1189.6,1617.68 1190.1,1614.04 1190.7,1616.55 1191.2,1613.52 1191.8,1617.49 1192.3,1614.71 1192.7,1614.24 1193.4,1613.49 1194.0,1613.74 1194.5,1613.94 1195.1,1613.08 1195.6,1615.62 1196.2,1615.20 1196.7,1616.24 1197.3,1615.32 1197.8,1616.67 1198.4,1614.78 1199.0,1621.17 1199.5,1615.08 1200.1,1615.59 1200.6,1617.70 1201.2,1618.13 1201.7,1615.27 1202.3,1614.03 1202.8,1614.34 1203.4,1614.82 1203.9,1614.97 1204.5,1615.68 1205.0,1617.20 1205.6,1617.04 1206.1,1614.22 1206.7,1615.66 1207.2,1615.91 1207.8,1616.48 1208.3,1613.81 1208.9,1612.71 1209.4,1615.01 1210.0,1616.22 1210.5,1613.01 1211.1,1617.04 1211.6,1616.78 1212.2,1613.78 1212.7,1611.84 1213.3,1613.42 1213.8,1613.78 1214.4,1615.05 1214.9,1611.36 1215.5,1617.60 1216.0,1617.13 1216.6,1611.68 1217.2,1600.33 1217.7,1590.64 1218.3,1579.29 1218.8,1569.70 1219.3,1556.02 1219.9,1565.64 1220.5,1566.17 1221.0,1580.91 1221.6,1588.45 1222.1,1584.65 1222.7,1588.04 1223.2,1594.75 1223.8,1600.68 1224.3,1606.02 1224.9,1615.41 1225.4,1613.38 1226.0,1618.05 1226.5,1615.24 1227.1,1617.60 1227.6,1616.29 1228.2,1618.07 1228.7,1617.53 1229.3,1618.63 1229.8,1616.97 1230.4,1615.91 1230.9,1617.64 1231.5,1617.52 1232.0,1615.99 1232.6,1616.99 1233.1,1615.64 1233.7,1617.92 1234.2,1617.21 1234.8,1617.66 1235.4,1621.02 1235.9,1617.71 1236.5,1617.93 1236.7,1618.24 1237.0,1617.17 1237.6,1616.49 1238.1,1618.40 1238.7,1618.54 1239.2,1613.08 1239.8,1616.77 1240.3,1616.44 1240.9,1616.05 1241.4,1618.48 1242.0,1615.93 1242.5,1617.80 1243.1,1615.75 1243.6,1615.85 1244.2,1617.37 1244.7,1615.19 1245.3,1615.92 1245.8,1614.47 1246.4,1615.22 1246.9,1618.09 1247.5,1618.50 1248.0,1616.91 1248.6,1617.54 1249.1,1622.52 1249.7,1619.44 1250.2,1619.77 1250.8,1621.68 1251.3,1620.71 1251.9,1621.28 1252.4,1622.40 1253.0,1621.87 1253.5,1619.32 1254.1,1619.27 1254.7,1614.39 1255.2,1610.60 1255.8,1606.98 1256.3,1602.31 1256.9,1600.83 1257.5,1597.91 1258.0,1594.90 1258.5,1598.07 1259.1,1598.10 1259.6,1600.24 1260.2,1603.46 1260.7,1607.87 1261.3,1607.28 1261.8,1608.95 1262.4,1608.57 1262.9,1603.57 1263.5,1600.30 1264.0,1598.05 1264.5,1599.58 1265.1,1600.79 1265.7,1603.22 1266.2,1597.86 1266.8,1604.65 1267.3,1606.87 1267.9,1611.72 1268.4,1609.59 1269.0,1611.57 1269.5,1611.39 1270.1,1614.52 1270.6,1615.57 1271.2,1616.74 1271.7,1617.45 1272.3,1616.85 1272.9,1618.51 1273.4,1618.79 1274.0,1618.84 1274.5,1617.18 1275.1,1618.39 1275.6,1618.55 1276.2,1615.17 1276.7,1616.97 1277.3,1615.77 1277.8,1616.21 1278.4,1617.81 1278.9,1617.42 1279.5,1619.49 1280.0,1620.16 1280.6,1617.70 1281.1,1616.35 1281.7,1615.58 1282.2,1614.54 1282.8,1613.81 1283.3,1609.38 1283.9,1609.30 1284.4,1604.97 1285.0,1605.29 1285.5,1604.15 1285.9,1604.30 1286.6,1599.71 1287.2,1597.80 1287.7,1598.43 1288.3,1603.12 1288.8,1602.56 1289.4,1604.21 1289.9,1608.92 1290.5,1610.01 1291.1,1614.83 1291.6,1618.36 1292.2,1616.64 1292.7,1618.50 1293.3,1617.04 1293.8,1619.05 1294.4,1617.33 1294.9,1615.87 1295.5,1613.38 1296.0,1616.61 1296.6,1608.16 1297.1,1604.36 1297.7,1601.98 1298.2,1598.55 1298.6,1597.01 1299.3,1596.85 1299.9,1595.69 1300.4,1599.76 1301.0,1596.14 1301.5,1587.46 1302.1,1590.97 1302.6,1581.07 1303.3,1583.32 1303.7,1577.52 1304.3,1582.09 1304.8,1587.01 1305.4,1587.85 1305.9,1592.07 1306.5,1583.96 1307.0,1589.39 1307.6,1587.52 1308.1,1594.20 1308.7,1594.88 1309.3,1592.92 1309.8,1598.59 1310.4,1589.55 1310.9,1589.11 1311.5,1578.60 1312.0,1580.81 1312.6,1582.58 1313.1,1585.44 1313.7,1586.88 1314.2,1587.64 1314.8,1582.96 1315.3,1591.29 1315.9,1592.64 1316.4,1597.13 1317.0,1602.57 1317.5,1607.91 1318.1,1606.06 1318.6,1608.38 1319.2,1608.53 1319.7,1609.43 1320.0,1609.46 1320.3,1608.11 1320.8,1608.54 1321.4,1610.27 1321.9,1613.43 1322.5,1612.02 1323.0,1613.94 1323.6,1609.28 1324.1,1612.45 1324.7,1613.11 1325.2,1613.75 1325.8,1611.08 1326.3,1610.80 1326.9,1610.85 1327.5,1614.02 1328.0,1618.63 1328.6,1615.82 1329.1,1614.16 1329.7,1616.60 1330.2,1615.72 1330.8,1616.45 1331.3,1615.60 1331.9,1614.43 1332.4,1615.57 1333.0,1617.39 1333.5,1616.85 1334.1,1618.19 1334.6,1614.98 1335.2,1618.02 1335.7,1616.66 1336.3,1616.89 1336.8,1618.41 1337.4,1616.51 1337.9,1617.09 1338.5,1617.66 1339.0,1617.71 1339.6,1617.97 1340.1,1618.67 1340.7,1617.64 1341.2,1616.33 1341.8,1620.36 1342.3,1616.96 1342.9,1617.55 1343.4,1616.00 1344.0,1614.00 1344.5,1615.91 1345.1,1617.05 1345.7,1617.66 1346.2,1616.93 1346.8,1617.95 1347.3,1618.18 1347.9,1618.12 1348.4,1616.67 1349.0,1616.70 1349.5,1616.17 1350.1,1615.09 1350.6,1618.24 1351.2,1614.13 1351.7,1615.50 1352.3,1615.37 1352.8,1610.48 1353.4,1613.02 1353.9,1607.15 1354.5,1602.39 1355.0,1593.63 1355.6,1583.55 1356.0,1586.29 1356.7,1589.43 1357.2,1597.20 1357.8,1599.84 1358.3,1596.12 1358.9,1602.20 1359.4,1601.51 1360.0,1603.67 1360.5,1606.78 1361.1,1608.23 1361.6,1613.32 1362.2,1613.64 1362.7,1619.58 1363.3,1615.40 1363.8,1614.43 1364.4,1615.74 1365.0,1618.43 1365.5,1615.65 1366.1,1613.08 1366.6,1618.68 1367.2,1617.12 1367.7,1616.00 1368.3,1617.74 1368.8,1615.47 1369.4,1615.15 1369.9,1618.14 1370.5,1616.15 1371.0,1617.65 1371.6,1616.98 1372.1,1618.16 1372.7,1617.20 1373.2,1614.28 1373.8,1618.07 1374.3,1616.53 1374.9,1618.43 1375.4,1617.41 1376.0,1619.23 1376.5,1616.91 1377.1,1614.59 1377.6,1616.98 1378.2,1618.14 1378.7,1617.02 1379.3,1616.89 1379.8,1619.53 1380.4,1617.38 1380.9,1619.03 1381.5,1617.85 1382.0,1615.66 1382.6,1616.27 1383.2,1617.05 1383.7,1617.82 1384.3,1616.24 1384.8,1615.35 1385.4,1615.83 1385.9,1616.44 1386.5,1615.87 1387.0,1616.22 1387.6,1619.54 1388.1,1617.29 1388.7,1615.69 1389.2,1616.76 1389.8,1618.92 1390.3,1617.63 1390.9,1616.60 1391.4,1614.86 1392.0,1614.40 1392.5,1616.32 1393.1,1616.67 1393.6,1614.57 1394.2,1615.00 1394.7,1616.82 1395.3,1613.81 1395.8,1614.52 1396.4,1616.86 1396.9,1617.73 1397.5,1617.41 1398.0,1618.37 1398.6,1619.18 1399.1,1618.25 1399.7,1616.64 1400.2,1619.94 1400.8,1619.28 1401.4,1618.17 1401.9,1615.59 1402.5,1617.10 1403.0,1613.24 1403.6,1615.42 1404.1,1611.76 1404.7,1614.36 1405.2,1616.12 1405.8,1614.07 1406.3,1616.24 1406.9,1613.31 1407.2,1613.35 1407.4,1612.62 1408.0,1613.95 1408.5,1613.08 1409.1,1615.30 1409.6,1616.23 1410.2,1614.56 1410.7,1612.60 1411.3,1615.65 1411.8,1617.27 1412.4,1616.60 1412.9,1616.46 1413.5,1617.74 1414.0,1618.56 1414.6,1613.34 1415.1,1619.26 1415.7,1618.40 1416.2,1618.12 1416.8,1616.81 1417.3,1617.92 1417.9,1618.46 1418.4,1615.69 1419.0,1618.63 1419.6,1617.57 1420.1,1619.30 1420.7,1618.03 1421.2,1616.62 1421.8,1616.67 1422.3,1617.20 1422.9,1616.10 1423.4,1616.23 1424.0,1613.74 1424.5,1612.19 1425.1,1612.45 1425.6,1610.07 1426.2,1610.11 1426.7,1611.01 1427.3,1606.07 1427.8,1605.50 1428.4,1608.12 1428.9,1598.06 1429.5,1571.68 1430.0,1539.06 1430.6,1512.45 1431.3,1480.09 1431.7,1506.22 1432.2,1527.43 1432.8,1537.19 1433.3,1559.24 1433.9,1570.08 1434.4,1556.87 1435.0,1538.14 1435.5,1557.04 1436.1,1578.64 1436.6,1582.84 1437.2,1600.52 1437.8,1605.41 1438.3,1605.29 1438.9,1607.75 1439.4,1611.22 1440.0,1612.02 1440.5,1608.77 1441.1,1609.92 1441.6,1609.49 1442.2,1607.62 1442.7,1612.51 1443.3,1614.26 1443.8,1614.18 1444.4,1610.71 1444.9,1613.81 1445.5,1613.30 1446.0,1610.65 1446.6,1611.13 1447.1,1610.64 1447.7,1611.82 1448.2,1614.64 1448.8,1609.80 1449.3,1609.23 1449.9,1612.72 1450.4,1611.00 1451.0,1607.11 1451.5,1608.25 1452.1,1608.10 1452.6,1607.99 1453.2,1609.30 1453.7,1610.22 1454.3,1607.72 1454.7,1608.24 1455.4,1606.57 1456.0,1610.27 1456.5,1611.29 1457.1,1608.76 1457.6,1608.53 1458.2,1614.37 1458.7,1613.05 1459.3,1610.71 1459.8,1610.26 1460.4,1613.42 1460.9,1616.54 1461.5,1614.60 1462.0,1615.73 1462.6,1616.00 1463.1,1618.12 1463.7,1619.57 1464.2,1616.50 1464.8,1618.14 1465.3,1618.45 1465.9,1617.99 1466.4,1617.31 1467.0,1619.84 1467.5,1619.02 1468.1,1619.72 1468.6,1620.71 1469.2,1618.37 1469.7,1619.48 1470.3,1618.30 1470.8,1618.67 1471.4,1619.18 1471.9,1618.55 1472.5,1616.85 1473.0,1620.61 1473.6,1618.89 1474.1,1617.25 1474.7,1615.90 1475.3,1618.59 1475.8,1619.35 1476.4,1619.72 1476.9,1619.77 1477.5,1617.74 1478.0,1618.95 1478.6,1615.92 1479.1,1617.91 1479.7,1618.57 1480.2,1615.87 1480.8,1615.73 1481.3,1615.28 1481.9,1614.60 1482.5,1616.34 1483.0,1612.22 1483.5,1616.38 1484.1,1612.69 1484.6,1613.88 1485.2,1613.79 1485.7,1614.80 1486.3,1614.13 1486.8,1615.73 1487.4,1615.22 1487.9,1618.80 1488.5,1616.32 1489.0,1615.54 1489.6,1616.53 1490.1,1616.85 1490.7,1615.65 1491.2,1614.25 1491.8,1614.66 1492.3,1616.06 1492.9,1616.98 1493.5,1616.41 1494.0,1615.51 1494.6,1616.42 1495.1,1614.77 1495.7,1615.83 1496.2,1617.50 1496.8,1616.95 1497.3,1617.20 1497.9,1614.41 1498.4,1615.11 1499.0,1612.99 1499.5,1615.75 1500.1,1613.29 1500.6,1611.44 1501.2,1612.33 1501.7,1613.10 1502.3,1608.37 1502.8,1609.15 1503.4,1612.87 1503.9,1610.79 1504.5,1610.08 1505.0,1606.78 1505.6,1612.44 1506.1,1611.21 1506.7,1610.50 1507.2,1607.05 1507.8,1610.35 1508.3,1611.58 1508.9,1609.06 1509.4,1609.51 1510.0,1609.43 1510.5,1611.72 1511.1,1610.55 1511.7,1610.71 1512.2,1609.05 1512.8,1608.94 1513.3,1613.47 1513.9,1614.26 1514.4,1612.25 1515.0,1612.07 1515.5,1606.65 1516.1,1605.82 1516.6,1605.26 1517.2,1603.42 1517.7,1607.72 1518.3,1602.40 1518.8,1605.34 1519.4,1606.94 1519.9,1607.01 1520.5,1610.48 1521.0,1605.60 1521.6,1612.20 1522.1,1612.77 1522.7,1612.89 1523.2,1615.79 1523.8,1618.17 1524.3,1615.52 1524.9,1616.86 1525.4,1616.71 1526.0,1617.14 1526.5,1615.86 1527.1,1615.72 1527.6,1617.72 1528.2,1616.27 1528.7,1618.40 1529.3,1618.22 1529.9,1616.51 1530.4,1617.63 1531.0,1617.23 1531.5,1616.93 1532.1,1618.67 1532.6,1617.16 1533.2,1617.42 1533.7,1614.41 1534.3,1617.90 1534.8,1615.08 1535.4,1616.52 1535.9,1619.28 1536.5,1619.51 1537.0,1616.49 1537.6,1615.27 1538.1,1617.56 1538.7,1616.44 1539.2,1617.45 1539.8,1615.10 1540.3,1618.51 1540.9,1619.10 1541.4,1614.92 1542.0,1615.84 1542.5,1615.94 1543.1,1617.93 1543.6,1614.24 1544.2,1617.33 1544.7,1616.79 1545.3,1616.08 1545.8,1618.19 1546.4,1614.60 1546.9,1615.42 1547.5,1616.22 1548.1,1618.21 1548.6,1616.65 1549.2,1615.79 1549.7,1617.35 1550.3,1615.61 1550.8,1614.88 1551.4,1614.85 1551.9,1615.26 1552.5,1618.46 1553.0,1611.89 1553.6,1613.70 1554.0,1612.73 1554.7,1612.31 1555.2,1615.23 1555.8,1613.97 1556.3,1613.83 1556.9,1611.98 1557.4,1611.37 1558.0,1613.33 1558.5,1612.39 1559.1,1610.42 1559.6,1602.99 1560.2,1588.20 1560.7,1579.28 1561.3,1574.27 1561.5,1567.46 1561.8,1576.24 1562.4,1581.73 1562.9,1596.38 1563.5,1599.32 1564.0,1608.34 1564.6,1602.69 1565.1,1597.40 1565.7,1598.12 1566.3,1600.39 1566.8,1603.65 1567.4,1613.24 1567.9,1616.27 1568.5,1619.11 1569.0,1617.80 1569.6,1619.08 1570.1,1615.55 1570.7,1613.54 1571.2,1611.06 1571.8,1611.87 1572.3,1602.94 1572.9,1599.18 1573.4,1596.55 1574.0,1598.74 1574.5,1599.54 1575.1,1598.27 1575.6,1604.05 1576.2,1604.62 1576.7,1607.35 1577.3,1606.98 1577.8,1603.62 1578.4,1606.10 1578.9,1606.63 1579.5,1609.54 1580.0,1610.72 1580.6,1611.83 1581.1,1614.02 1581.7,1613.50 1582.2,1614.85 1582.8,1613.74 1583.3,1613.32 1583.9,1614.91 1584.4,1614.75 1585.0,1615.00 1585.6,1613.72 1586.1,1612.02 1586.7,1612.43 1587.2,1612.08 1587.8,1608.41 1588.3,1609.21 1588.9,1613.64 1589.6,1610.36 1590.0,1605.02 1590.5,1609.71 1591.1,1609.89 1591.6,1606.91 1592.2,1613.23 1592.7,1610.68 1593.3,1609.69 1593.8,1607.30 1594.4,1608.19 1594.9,1608.44 1595.5,1607.44 1596.0,1605.01 1596.6,1606.46 1597.1,1605.55 1597.7,1604.15 1598.2,1597.60 1598.8,1594.87 1599.3,1585.86 1599.9,1577.06 1600.4,1569.44 1600.8,1561.95 1601.5,1576.10 1602.1,1584.06 1602.6,1585.08 1603.2,1592.16 1603.8,1590.14 1604.3,1589.20 1604.9,1592.09 1605.4,1592.73 1606.0,1601.03 1606.5,1601.65 1607.1,1603.76 1607.6,1609.62 1608.2,1607.26 1608.7,1615.85 1609.3,1614.15 1609.8,1615.06 1610.4,1615.10 1610.9,1614.04 1611.5,1615.57 1612.0,1615.00 1612.6,1615.79 1613.1,1617.29 1613.7,1615.31 1614.2,1619.38 1614.8,1615.80 1615.3,1618.51 1615.9,1616.65 1616.4,1615.97 1617.0,1618.25 1617.5,1618.07 1618.1,1617.67 1618.6,1617.99 1619.2,1617.37 1619.7,1618.82 1620.3,1617.77 1620.8,1618.51 1621.4,1619.98 1622.0,1616.82 1622.5,1617.61 1623.1,1617.32 1623.6,1617.00 1624.2,1616.12 1624.7,1617.37 1625.3,1617.78 1625.8,1617.27 1626.4,1615.11 1626.9,1618.05 1627.5,1617.94 1628.0,1616.91 1628.6,1615.26 1629.1,1615.30 1629.7,1619.12 1630.2,1618.83 1630.8,1617.16 1631.3,1615.30 1631.9,1618.44 1632.4,1617.02 1633.0,1619.18 1633.5,1616.17 1634.1,1617.70 1634.6,1616.86 1635.2,1618.26 1635.7,1616.49 1636.3,1618.66 1636.8,1617.02 1637.4,1616.45 1637.9,1618.47 1638.5,1618.12 1639.0,1615.16 1639.6,1617.95 1640.2,1618.23 1640.7,1618.43 1641.3,1620.88 1641.8,1617.57 1642.4,1618.45 1642.9,1616.45 1643.5,1616.86 1644.0,1618.05 1644.6,1618.69 1645.1,1618.70 1645.7,1619.81 1646.2,1620.01 1646.8,1620.43 1647.3,1619.10 1647.9,1619.85 1648.4,1618.38 1649.0,1619.64 1649.5,1619.76 1650.1,1618.55 1650.6,1615.26 1651.2,1618.31 1651.7,1622.17 1652.3,1618.92 1652.8,1618.24 1653.4,1619.11 1653.9,1620.31 1654.5,1619.33 1655.0,1618.64 1655.6,1617.29 1656.1,1618.47 1656.7,1617.34 1657.2,1619.21 1657.8,1620.61 1658.4,1620.02 1658.9,1617.96 1659.5,1617.46 1660.0,1616.94 1660.6,1619.20 1661.1,1619.35 1661.7,1619.61 1662.2,1619.03 1662.8,1617.09 1663.3,1616.18 1663.9,1619.96 1664.4,1617.50 1665.0,1620.91 1665.5,1615.87 1666.1,1617.11 1666.6,1617.30 1667.2,1618.78 1667.7,1619.25 1668.3,1617.66 1668.8,1619.04 1669.4,1616.50 1669.9,1617.37 1670.5,1616.22 1671.0,1616.79 1671.6,1616.31 1672.1,1617.17 1672.7,1621.16 1673.2,1613.62 1673.8,1614.70 1674.3,1615.43 1674.9,1613.85 1675.4,1615.49 1676.0,1610.98 1676.7,1613.58 1677.1,1610.78 1677.7,1613.45 1678.2,1612.39 1678.8,1612.70 1679.3,1611.57 1679.9,1609.83 1680.4,1611.50 1681.0,1614.87 1681.5,1613.77 1682.1,1615.79 1682.6,1613.11 1683.2,1616.51 1683.7,1617.45 1684.3,1613.23 1684.8,1617.17 1685.4,1619.63 1685.9,1616.08 1686.5,1618.56 1687.0,1617.29 1687.6,1618.36 1688.1,1616.56 1688.7,1615.82 1689.2,1616.04 1689.8,1615.80 1690.3,1615.10 1690.9,1614.30 1691.4,1616.92 1692.0,1614.11 1692.3,1613.03 1692.5,1613.36 1693.1,1615.42 1693.6,1611.11 1694.2,1615.23 1694.7,1615.41 1695.3,1616.07 1695.9,1612.99 1696.4,1611.92 1697.0,1613.02 1697.5,1612.37 1698.1,1613.76 1698.6,1610.85 1699.2,1609.21 1699.7,1606.25 1700.3,1589.00 1700.8,1570.68 1701.4,1556.03 1701.9,1532.82 1702.2,1528.38 1702.5,1536.79 1703.0,1546.75 1703.6,1564.20 1704.1,1584.85 1704.7,1597.04 1705.2,1587.26 1705.8,1582.88 1706.3,1574.27 1706.9,1573.11 1707.4,1579.59 1708.0,1587.29 1708.5,1599.29 1709.1,1606.31 1709.6,1610.97 1710.2,1609.82 1710.7,1613.60 1711.3,1607.33 1711.8,1613.65 1712.4,1613.92 1712.9,1612.51 1713.5,1613.39 1714.1,1613.38 1714.6,1615.35 1715.2,1616.06 1715.7,1613.49 1716.3,1616.22 1716.8,1612.61 1717.4,1614.39 1717.9,1614.48 1718.5,1611.80 1719.0,1614.40 1719.6,1612.85 1720.1,1615.22 1720.7,1612.57 1721.2,1611.20 1721.8,1611.99 1722.3,1614.13 1722.9,1614.63 1723.6,1614.74 1724.0,1613.03 1724.5,1615.53 1725.1,1613.49 1725.6,1614.07 1726.2,1616.01 1726.7,1614.30 1727.3,1611.71 1727.8,1615.80 1728.4,1614.77 1728.9,1614.25 1729.5,1616.89 1730.0,1614.03 1730.6,1616.05 1731.1,1615.34 1731.7,1619.12 1732.3,1612.55 1732.8,1615.62 1733.4,1615.90 1733.9,1617.08 1734.5,1614.89 1735.0,1614.65 1735.6,1617.71 1736.1,1615.10 1736.7,1616.20 1737.2,1615.77 1737.8,1616.46 1738.3,1613.99 1738.9,1615.21 1739.4,1615.95 1740.0,1616.21 1740.5,1617.65 1741.1,1616.80 1741.6,1616.87 1742.2,1615.89 1742.7,1617.71 1743.3,1614.79 1743.8,1615.24 1744.4,1612.62 1744.9,1612.51 1745.5,1614.50 1746.0,1611.56 1746.6,1606.35 1747.1,1607.45 1747.7,1604.58 1748.2,1600.18 1748.8,1601.64 1749.3,1599.46 1749.9,1600.48 1750.5,1603.87 1751.0,1601.99 1751.6,1607.08 1752.1,1605.36 1752.7,1606.10 1753.2,1609.68 1753.8,1608.43 1754.3,1607.82 1754.9,1609.69 1755.4,1611.82 1756.0,1610.59 1756.5,1615.46 1757.1,1615.65 1757.6,1614.84 1758.2,1616.17 1758.7,1619.16 1759.3,1616.90 1759.8,1621.47 1760.4,1617.83 1760.9,1619.59 1761.5,1616.56 1762.0,1619.63 1762.6,1619.28 1763.1,1620.53 1763.7,1620.19 1764.2,1619.59 1764.8,1622.37 1765.3,1620.79 1765.9,1619.07 1766.4,1620.26 1767.0,1616.55 1767.5,1619.13 1768.1,1621.18 1768.7,1619.08 1769.2,1619.85 1769.8,1618.31 1770.3,1620.50 1770.9,1619.69 1771.4,1619.50 1772.0,1620.55 1772.5,1621.34 1773.1,1620.31 1773.6,1617.27 1774.2,1619.74 1774.7,1619.53 1775.3,1617.80 1775.8,1617.18 1776.4,1618.57 1776.9,1618.65 1777.5,1618.88 1778.0,1618.02 1778.6,1619.05 1779.1,1619.17 1779.7,1618.40 1780.2,1619.17 1780.8,1617.92 1781.3,1616.64 1781.9,1618.53 1782.4,1619.59 1783.0,1621.83 1783.5,1615.70 1784.1,1617.69 1784.6,1617.16 1785.2,1618.56 1785.7,1617.04 1786.3,1618.29 1786.9,1619.41 1787.4,1617.20 1788.0,1618.09 1788.5,1620.26 1789.1,1619.33 1789.6,1616.13 1790.2,1620.84 1790.7,1617.28 1791.3,1618.47 1791.8,1617.45 1792.4,1617.25 1792.9,1616.74 1793.5,1618.27 1794.0,1616.14 1794.6,1615.21 1795.1,1615.92 1795.7,1616.52 1796.2,1613.53 1796.6,1617.46 1797.3,1615.30 1797.9,1617.41 1798.4,1618.45 1799.0,1617.07 1799.5,1617.52 1800.1,1616.30 1800.6,1616.14 1801.2,1614.63 1801.7,1617.08 1802.3,1616.76 1802.8,1614.51 1803.4,1618.16 1803.9,1619.93 1804.5,1618.61 1805.0,1619.66 1805.6,1617.84 1806.2,1616.88 1806.7,1618.22 1807.3,1617.62 1807.8,1616.49 1808.4,1619.16 1808.9,1617.80 1809.5,1616.31 1810.0,1616.86 1810.6,1615.36 1811.1,1615.01 1811.7,1614.62 1812.2,1608.01 1812.8,1603.82 1813.3,1606.69 1814.0,1607.57 1814.4,1601.19 1815.0,1602.18 1815.5,1603.81 1816.1,1608.09 1816.6,1609.37 1817.2,1608.78 1817.7,1610.15 1818.3,1605.78 1818.8,1605.14 1819.4,1603.21 1819.9,1608.69 1820.5,1608.58 1821.0,1609.92 1821.6,1607.28 1822.1,1612.87 1822.7,1612.36 1823.2,1614.06 1823.8,1614.37 1824.4,1613.06 1824.9,1613.19 1825.5,1610.78 1826.0,1612.41 1826.6,1613.21 1827.1,1612.23 1827.7,1614.77 1828.2,1617.05 1828.8,1614.78 1829.3,1614.37 1829.9,1614.71 1830.4,1616.30 1831.0,1618.58 1831.5,1616.29 1832.1,1616.12 1832.6,1614.23 1833.2,1616.55 1833.7,1617.02 1834.3,1615.57 1834.8,1616.16 1835.4,1615.29 1835.9,1617.32 1836.5,1618.20 1837.0,1616.87 1837.6,1617.09 1838.1,1616.47 1838.7,1615.52 1839.2,1615.36 1839.8,1615.91 1840.3,1616.68 1840.9,1616.53 1841.4,1617.99 1842.0,1617.64 1842.6,1618.71 1843.1,1617.74 1843.7,1616.34 1844.2,1616.84 1844.8,1614.47 1845.3,1619.08 1845.9,1615.98 1846.4,1616.25 1847.0,1619.36 1847.5,1615.38 1848.1,1616.04 1848.6,1616.83 1849.2,1616.15 1849.7,1617.10 1850.3,1617.25 1850.8,1617.68 1851.4,1616.54 1851.9,1617.56 1852.5,1616.00 1853.0,1617.23 1853.6,1617.93 1854.1,1613.66 1854.7,1615.71 1855.2,1616.19 1855.8,1613.06 1856.3,1611.23 1856.9,1616.06 1857.4,1614.53 1858.0,1616.55 1858.5,1615.26 1859.1,1615.14 1859.6,1614.52 1860.2,1615.10 1860.8,1613.45 1861.3,1613.94 1861.9,1615.99 1862.4,1614.57 1863.0,1615.89 1863.5,1615.28 1864.1,1614.95 1864.6,1614.20 1865.2,1617.02 1865.7,1614.75 1866.3,1616.66 1866.8,1614.07 1867.4,1616.84 1867.9,1617.16 1868.5,1615.90 1869.0,1614.73 1869.6,1616.91 1870.1,1617.43 1870.7,1616.75 1871.2,1616.72 1871.8,1618.98 1872.3,1617.81 1872.9,1617.58 1873.4,1619.36 1874.0,1618.43 1874.5,1617.75 1875.1,1619.85 1875.6,1618.50 1876.2,1620.04 1876.7,1618.09 1877.3,1619.29 1877.8,1620.39 1878.4,1619.43 1879.0,1619.47 1879.5,1619.39 1880.1,1619.88 1880.6,1618.92 1881.2,1619.36 1881.7,1618.52 1882.3,1621.15 1882.8,1617.70 1883.4,1619.77 1883.9,1617.55 1884.5,1619.40 1885.0,1620.34 1885.6,1617.37 1886.1,1620.86 1886.7,1617.50 1887.2,1617.66 1887.8,1619.06 1888.3,1617.29 1888.9,1619.84 1889.4,1619.23 1890.0,1615.25 1890.5,1616.83 1891.1,1617.69 1891.6,1619.08 1892.2,1617.23 1892.7,1617.65 1893.3,1619.29 1893.8,1617.27 1894.4,1618.86 1894.9,1616.77 1895.5,1619.70 1896.0,1620.21 1896.6,1616.98 1897.2,1615.43 1897.7,1616.25 1898.3,1619.53 1898.8,1617.57 1899.4,1619.56 1899.9,1616.48 1900.5,1616.90 1901.0,1617.85 1901.6,1619.28 1902.1,1617.50 1902.7,1616.31 1903.2,1617.92 1903.8,1617.52 1904.3,1617.96 1904.9,1616.94 1905.4,1616.26 1905.7,1617.09 1906.0,1613.67 1906.5,1617.34 1907.1,1618.61 1907.6,1617.64 1908.2,1615.51 1908.7,1614.61 1909.3,1618.42 1909.8,1615.70 1910.4,1615.87 1910.9,1616.19 1911.5,1614.63 1912.0,1615.12 1912.6,1616.88 1913.1,1613.29 1913.7,1616.60 1914.2,1607.61 1914.8,1593.44 1915.3,1581.37 1915.9,1567.58 1916.5,1553.29 1917.0,1563.56 1917.6,1573.37 1918.1,1593.55 1918.7,1602.64 1919.2,1610.28 1919.8,1607.47 1920.3,1600.60 1920.9,1592.45 1921.4,1586.19 1922.0,1586.39 1922.5,1596.67 1923.1,1597.65 1923.6,1600.28 1924.2,1605.29 1924.7,1602.64 1925.3,1592.36 1925.8,1580.24 1926.4,1573.73 1926.9,1565.18 1927.6,1557.25 1928.0,1560.45 1928.6,1562.87 1929.1,1570.73 1929.7,1577.88 1930.2,1576.96 1930.8,1579.35 1931.3,1571.49 1931.9,1562.47 1932.4,1559.57 1932.8,1558.87 1933.5,1561.51 1934.1,1571.68 1934.7,1582.54 1935.2,1598.67 1935.8,1599.37 1936.3,1606.95 1936.9,1609.21 1937.4,1603.26 1938.0,1600.54 1938.6,1598.95 1939.1,1598.28 1939.6,1607.95 1940.2,1609.14 1940.7,1611.19 1941.3,1614.22 1941.8,1616.49 1942.4,1616.22 1942.9,1615.58 1943.5,1617.50 1944.0,1615.59 1944.6,1616.24 1945.1,1616.99 1945.7,1615.75 1946.2,1616.82 1946.8,1615.82 1947.3,1620.35 1947.9,1616.16 1948.4,1617.68 1949.0,1615.59 1949.5,1615.25 1950.1,1616.62 1950.6,1616.33 1951.2,1616.35 1951.7,1616.78 1952.3,1618.02 1952.9,1619.42 1953.4,1619.55 1954.0,1616.87 1954.5,1619.24 1955.1,1619.02 1955.6,1615.75 1956.2,1615.84 1956.7,1616.24 1957.3,1618.97 1957.8,1615.84 1958.4,1615.47 1958.9,1617.58 1959.5,1615.03 1960.0,1614.76 1960.6,1615.57 1961.1,1614.61 1961.7,1610.27 1962.2,1611.73 1962.8,1614.52 1963.3,1610.82 1963.9,1614.89 1964.4,1612.60 1964.8,1613.04 1965.5,1612.98 1966.1,1609.55 1966.6,1611.38 1967.2,1610.92 1967.7,1613.18 1968.3,1615.45 1968.8,1612.85 1969.4,1613.58 1969.9,1610.69 1970.5,1613.47 1971.1,1613.99 1971.6,1614.40 1972.2,1615.89 1972.7,1617.36 1973.3,1615.58 1973.8,1616.44 1974.4,1613.95 1974.9,1617.22 1975.5,1616.63 1976.0,1614.38 1976.6,1617.36 1977.1,1616.12 1977.7,1618.44 1978.2,1617.79 1978.8,1617.33 1979.3,1619.49 1979.9,1616.95 1980.4,1616.64 1981.0,1616.94 1981.5,1616.85 1982.1,1615.26 1982.6,1616.94 1983.2,1616.41 1983.7,1614.69 1984.3,1612.78 1984.8,1616.54 1985.4,1616.39 1985.9,1615.46 1986.5,1615.34 1987.0,1616.42 1987.6,1613.95 1987.9,1615.99 1988.1,1613.12 1988.7,1611.94 1989.3,1613.43 1989.8,1613.04 1990.4,1614.53 1990.9,1616.86 1991.5,1615.00 1992.0,1616.31 1992.6,1618.32 1993.1,1618.21 1993.7,1616.18 1994.2,1615.59 1994.8,1619.90 1995.3,1616.07 1995.9,1615.63 1996.4,1615.94 1997.0,1620.30 1997.5,1617.57 1998.1,1619.41 1998.6,1619.87 1999.2,1621.65 1999.7,1618.93 2000.3,1620.62 2000.8,1621.00 2001.4,1622.25 2001.9,1620.61 2002.5,1621.19 2003.0,1620.67 2003.6,1622.09 2004.1,1621.94 2004.7,1620.58 2005.2,1621.52 2005.8,1619.42 2006.3,1620.98 2006.9,1619.96 2007.5,1620.39 2008.0,1621.81 2008.6,1622.94 2009.1,1620.79 2009.7,1620.30 2010.2,1619.94 2010.8,1620.95 2011.3,1619.72 2011.9,1620.82 2012.4,1621.26 2013.0,1619.97 2013.5,1618.54 2014.1,1619.75 2014.6,1617.81 2015.2,1616.36 2015.7,1619.92 2016.3,1620.87 2016.8,1620.14 2017.4,1618.07 2017.9,1614.36 2018.5,1617.73 2019.0,1619.47 2019.6,1618.28 2020.1,1620.53 2020.7,1617.90 2021.2,1619.56 2021.8,1619.30 2022.3,1619.41 2022.9,1617.50 2023.4,1619.14 2024.0,1619.65 2024.5,1618.93 2025.1,1617.93 2025.6,1618.94 2026.2,1618.42 2026.8,1619.95 2027.3,1620.67 2027.9,1619.92 2028.4,1619.95 2029.0,1619.29 2029.5,1619.70 2030.1,1617.16 2030.6,1619.49 2031.2,1620.42 2031.7,1618.72 2032.3,1620.11 2032.8,1617.44 2033.4,1619.22 2033.9,1618.88 2034.5,1619.60 2035.0,1619.15 2035.6,1621.62 2036.1,1614.96 2036.7,1617.00 2037.2,1617.89 2037.8,1618.78 2038.3,1617.79 2038.9,1617.69 2039.4,1616.49 2040.0,1616.69 2040.5,1617.23 2041.1,1620.20 2041.6,1617.15 2042.2,1621.66 2042.7,1619.41 2043.3,1617.56 2043.8,1618.95 2044.4,1619.18 2045.0,1616.21 2045.5,1615.56 2046.1,1619.56 2046.6,1616.21 2047.2,1618.53 2047.7,1618.12 2048.3,1614.72 2048.8,1617.73 2049.4,1617.43 2049.9,1618.26 2050.5,1616.20 2051.0,1616.74 2051.6,1616.48 2052.1,1615.46 2052.8,1618.11 2053.2,1617.09 2053.8,1617.92 2054.3,1616.18 2054.9,1617.43 2055.4,1614.39 2056.0,1614.98 2056.5,1617.46 2057.1,1615.82 2057.6,1615.73 2058.2,1616.68 2058.7,1614.39 2059.3,1617.01 2059.8,1617.62 2060.4,1616.66 2060.9,1615.71 2061.5,1619.70 2062.0,1617.94 2062.6,1615.92 2063.2,1616.31 2063.7,1614.54 2064.3,1613.87 2064.8,1613.11 2065.4,1614.30 2066.0,1616.02 2066.5,1616.60 2067.0,1615.68 2067.6,1617.76 2068.1,1617.54 2068.7,1615.47 2069.2,1615.99 2069.8,1617.41 2070.3,1617.66 2070.9,1617.76 2071.4,1613.39 2072.0,1611.20 2072.5,1615.86 2073.1,1609.38 2073.6,1608.93 2074.2,1604.55 2074.6,1600.87 2075.3,1608.79 2075.8,1609.94 2076.4,1614.61 2076.9,1615.22 2077.5,1613.93 2078.0,1615.50 2078.6,1616.42 2079.1,1612.50 2079.7,1612.51 2080.2,1613.33 2080.8,1609.38 2081.4,1612.25 2081.9,1614.81 2082.5,1617.39 2083.0,1616.91 2083.6,1616.74 2084.1,1618.77 2084.7,1617.46 2085.2,1618.89 2085.8,1618.88 2086.3,1618.23 2086.9,1619.58 2087.4,1619.96 2088.0,1616.74 2088.5,1618.93 2089.1,1617.85 2089.6,1617.39 2090.2,1617.54 2090.7,1618.64 2091.3,1616.38 2091.8,1615.73 2092.4,1614.07 2093.0,1615.52 2093.5,1615.79 2094.0,1614.57 2094.6,1615.78 2095.1,1617.18 2095.7,1618.69 2096.2,1616.51 2096.8,1619.73 2097.3,1618.34 2097.9,1618.11 2098.4,1617.69 2099.0,1617.00 2099.6,1616.06 2100.1,1616.96 2100.7,1617.31 2101.2,1617.63 2101.8,1619.70 2102.3,1620.53 2102.9,1618.82 2103.4,1619.58 2104.0,1617.57 2104.5,1616.07 2105.1,1618.54 2105.6,1619.07 2106.2,1620.58 2106.7,1621.90 2107.3,1619.34 2107.8,1620.68 2108.4,1620.52 2108.9,1619.52 2109.5,1620.32 2110.0,1619.87 2110.6,1621.28 2111.1,1618.15 2111.7,1616.61 2112.2,1619.49 2112.8,1620.41 2113.3,1620.53 2113.9,1618.55 2114.4,1619.85 2115.0,1618.37 2115.5,1619.95 2116.1,1618.18 2116.6,1617.73 2117.2,1620.16 2117.8,1617.43 2118.3,1617.11 2118.9,1619.86 2119.4,1618.97 2120.0,1615.93 2120.5,1620.23 2121.1,1617.18 2121.6,1618.10 2122.2,1618.48 2122.7,1621.11 2123.3,1618.49 2123.8,1619.62 2124.4,1618.24 2124.9,1619.04 2125.5,1616.55 2126.0,1618.30 2126.6,1617.46 2127.1,1616.88 2127.7,1618.51 2128.2,1619.39 2128.8,1618.56 2129.3,1617.38 2129.9,1618.61 2130.4,1615.86 2131.0,1617.36 2131.5,1616.86 2132.1,1614.43 2132.6,1611.47 2133.2,1608.14 2133.7,1601.58 2134.3,1597.41 2134.9,1597.34 2135.4,1592.33 2135.9,1604.41 2136.5,1607.49 2137.1,1610.96 2137.6,1611.38 2138.2,1613.33 2138.7,1612.61 2139.3,1613.24 2139.8,1610.99 2140.4,1609.83 2140.9,1606.54 2141.5,1603.27 2142.0,1607.82 2142.6,1611.59 2143.1,1614.90 2143.7,1613.67 2144.2,1616.46 2144.8,1617.30 2145.3,1616.67 2145.9,1617.36 2146.4,1620.71 2147.0,1617.74 2147.5,1620.41 2148.1,1618.16 2148.6,1616.95 2149.2,1618.68 2149.7,1617.65 2150.3,1618.30 2150.8,1615.77 2151.4,1619.18 2151.9,1618.19 2152.5,1620.39 2153.0,1619.23 2153.6,1618.65 2154.1,1617.75 2154.7,1618.86 2155.3,1618.04 2155.8,1617.05 2156.4,1619.95 2156.9,1616.52 2157.5,1617.20 2158.0,1617.27 2158.6,1614.84 2159.1,1614.48 2159.7,1613.72 2160.2,1614.14 2160.7,1613.39 2161.3,1613.40 2161.9,1613.16 2162.4,1612.70 2163.0,1613.47 2163.5,1613.89 2164.1,1615.85 2164.6,1618.11 2165.2,1615.57 2165.7,1616.65 2166.3,1616.76 2166.8,1618.51 2167.4,1620.36 2167.9,1619.26 2168.5,1620.27 2169.0,1617.13 2169.6,1619.13 2170.1,1619.12 2170.7,1616.67 2171.2,1614.18 2171.8,1616.43 2172.3,1615.44 2172.9,1618.71 2173.5,1616.38 2174.0,1618.24 2174.6,1619.16 2175.1,1620.50 2175.7,1618.78 2176.2,1621.95 2176.8,1620.67 2177.3,1618.97 2177.9,1618.14 2178.4,1618.84 2179.0,1618.59 2179.5,1617.87 2180.1,1618.67 2180.6,1619.79 2181.2,1619.33 2181.7,1619.77 2182.3,1619.88 2182.8,1620.03 2183.4,1619.01 2183.9,1619.31 2184.5,1620.62 2185.0,1620.92 2185.6,1619.73 2186.1,1615.19 2186.7,1616.88 2187.2,1618.19 2187.8,1618.56 2188.3,1616.09 2188.9,1611.66 2189.4,1609.29 2190.0,1607.74 2190.3,1611.62 2190.5,1608.85 2191.1,1607.79 2191.7,1612.97 2192.2,1614.60 2192.8,1611.81 2193.3,1614.98 2193.9,1617.67 2194.4,1617.28 2195.0,1613.41 2195.5,1614.35 2196.1,1614.98 2196.6,1613.84 2197.2,1611.94 2197.7,1614.17 2198.3,1616.47 2198.8,1617.17 2199.4,1615.99 2199.9,1620.88 2200.5,1618.48 2201.0,1616.51 2201.6,1618.06 2202.1,1615.10 2202.7,1617.64 2203.2,1618.42 2203.8,1621.45 2204.3,1618.65 2204.9,1618.83 2205.4,1619.29 2206.0,1618.55 2206.5,1617.49 2207.1,1619.91 2207.6,1618.80 2208.2,1620.06 2208.7,1619.36 2209.3,1617.00 2209.9,1617.77 2210.4,1618.00 2211.0,1618.19 2211.5,1619.36 2212.1,1618.76 2212.6,1618.19 2213.2,1621.01 2213.7,1621.03 2214.3,1619.64 2214.8,1618.49 2215.4,1618.98 2215.9,1618.82 2216.5,1618.65 2217.0,1618.55 2217.6,1619.92 2218.1,1619.98 2218.7,1620.12 2219.2,1618.55 2219.8,1619.94 2220.3,1621.86 2220.9,1619.83 2221.4,1619.07 2222.0,1622.63 2222.5,1619.73 2223.1,1618.42 2223.6,1619.84 2224.2,1617.19 2224.7,1616.62 2225.3,1617.32 2225.8,1613.72 2226.4,1611.48 2226.7,1614.80 2226.9,1615.08 2227.5,1612.38 2228.1,1615.16 2228.6,1618.35 2229.2,1618.14 2229.7,1619.42 2230.3,1618.41 2230.8,1617.60 2231.4,1617.23 2231.9,1616.95 2232.5,1617.06 2233.0,1612.77 2233.6,1613.98 2234.1,1617.11 2234.7,1618.59 2235.2,1617.49 2235.8,1618.78 2236.3,1617.78 2236.9,1617.60 2237.4,1619.49 2238.0,1619.18 2238.5,1618.42 2239.1,1617.20 2239.6,1618.61 2240.2,1618.19 2240.7,1617.69 2241.3,1617.59 2241.8,1617.00 2242.4,1617.91 2242.9,1617.48 2243.5,1619.12 2244.0,1618.35 2244.6,1616.02 2245.1,1614.12 2245.7,1616.59 2246.2,1614.57 2246.8,1617.40 2247.4,1612.44 2247.9,1613.27 2248.5,1615.23 2249.0,1610.83 2249.6,1609.60 2250.1,1606.57 2250.7,1601.43 2251.3,1602.88 2251.8,1599.66 2252.3,1603.03 2252.9,1610.60 2253.4,1608.46 2254.0,1611.13 2254.5,1609.46 2255.1,1613.62"/>
<g class="s">
<text transform="matrix(0.7455 0 0 0.6753 589.50 1347.00)">♣</text>
<text transform="matrix(0.7455 0 0 0.6753 750.50 206.90)">♣</text>
<text transform="matrix(0.7455 0 0 0.6753 1022.60 1535.90)">♣</text>
<text transform="matrix(0.7455 0 0 0.6753 1103.60 1533.00)">♣</text>
<text transform="matrix(0.7455 0 0 0.6753 1185.60 1553.90)">♣</text>
<text transform="matrix(0.7455 0 0 0.6753 1398.60 1478.10)">♣</text>
<text transform="matrix(0.7455 0 0 0.6753 1529.60 1562.00)">♣</text>
<text transform="matrix(0.7455 0 0 0.6753 1667.60 1527.80)">♣</text>
<text transform="matrix(0.7455 0 0 0.6753 1785.60 1599.80)">♣</text>
<text transform="matrix(0.7455 0 0 0.6753 1893.60 1551.00)">♣</text>
<text transform="matrix(0.7455 0 0 0.6753 2103.60 1588.00)">♣</text>
<text transform="matrix(0.7166 0 0 0.6959 257.81 1370.65)">♦</text>
<text transform="matrix(0.7166 0 0 0.6959 505.91 1558.85)">♦</text>
<text transform="matrix(0.7166 0 0 0.6959 721.91 1576.85)">♦</text>
<text transform="matrix(0.7166 0 0 0.6959 899.91 1575.75)">♦</text>
<text transform="matrix(0.7166 0 0 0.6959 982.01 1580.85)">♦</text>
<text transform="matrix(0.7166 0 0 0.6959 1135.91 1579.85)">♦</text>
<text transform="matrix(0.7166 0 0 0.6959 1274.01 1574.85)">♦</text>
<text transform="matrix(0.7166 0 0 0.6959 1574.01 1558.95)">♦</text>
<text transform="matrix(0.7166 0 0 0.6959 1716.91 1596.05)">♦</text>
<text transform="matrix(0.7785 0 0 0.7000 926.52 1537.00)">♠</text>
<text transform="matrix(0.7785 0 0 0.7000 1055.62 1584.90)">♠</text>
<text transform="matrix(0.7785 0 0 0.7000 1324.62 1581.10)">♠</text>
<text transform="matrix(0.6201 0 0 0.6685 872.29 1515.60)">♥</text>
<text transform="matrix(0.6971 0 0 0.6966 192.09 1550.43)">●</text>
<text transform="matrix(0.6971 0 0 0.6966 361.09 1563.43)">●</text>
<text transform="matrix(0.6971 0 0 0.6966 1485.19 1582.43)">●</text>
<text class="d" transform="matrix(0.9147 0 0 0.9118 838.51 1574.10)">Δ</text>
<text transform="matrix(0.8822 0 0 0.7755 1567.88 173.00)">♣</text>
<text transform="matrix(0.8346 0 0 0.8195 1566.28 291.60)">♦</text>
<text transform="matrix(0.7244 0 0 0.7934 1578.86 411.50)">♥</text>
<text transform="matrix(0.9112 0 0 0.8222 1576.13 537.80)">♠</text>
<text transform="matrix(0.6997 0 0 0.6993 1593.97 645.40)">●</text>
<text class="d" transform="matrix(1.0839 0 0 1.0769 1594.17 770.00)">Δ</text>
</g>
<g class="l">
<text x="1670.1" y="171.2" font-size="103.9">Quarz</text>
<text x="1665.9" y="288.0" font-size="105.0">Mica</text>
<text x="1673.2" y="408.9" font-size="102.8">Dolomite</text>
<text x="1679.2" y="533.9" font-size="103.4">Pyrite</text>
<text x="1685.3" y="655.9" font-size="103.7">Chlorite</text>
<text x="1686.6" y="769.2" font-size="104.4">Calcite</text>
</g>
<g class="b" text-anchor="middle" font-size="112.5">
<text x="325.4" y="1818">10</text>
<text x="601.1" y="1818">20</text>
<text x="876.8" y="1818">30</text>
<text x="1152.6" y="1818">40</text>
<text x="1428.3" y="1818">50</text>
<text x="1704.0" y="1818">60</text>
<text x="1979.8" y="1818">70</text>
<text x="2255.5" y="1818">80</text>
</g>
<g class="b" text-anchor="middle" font-size="111">
<text x="1256.9" y="1957.8" font-size="111.7">2θ (degree)</text>
<text transform="translate(100.2 860.2) rotate(-90)" x="0" y="0" font-size="111.3">Intensity (a.u.)</text>
</g>
</svg>
</body>
</html>
